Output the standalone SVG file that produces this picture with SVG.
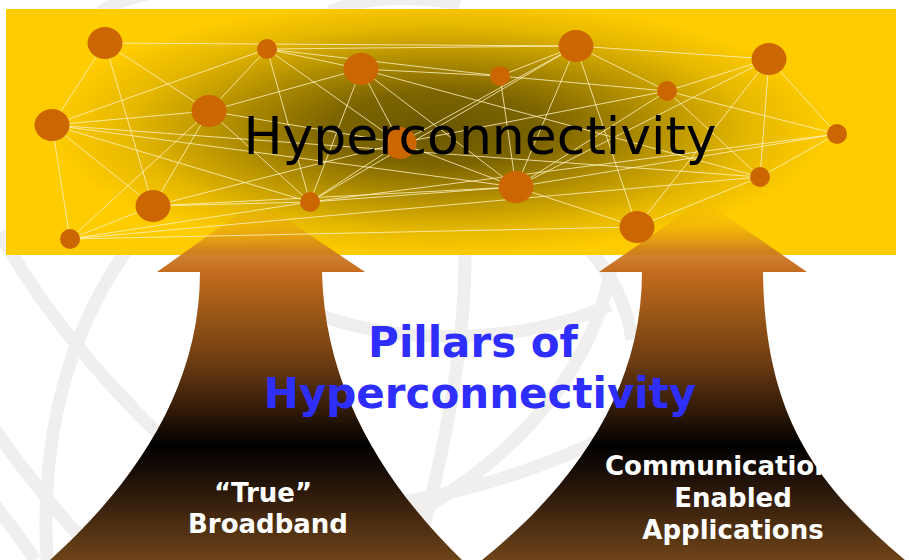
<svg xmlns="http://www.w3.org/2000/svg" width="909" height="560" viewBox="0 0 909 560">
<defs>
<radialGradient id="shade" gradientUnits="userSpaceOnUse" cx="440" cy="128" r="390" gradientTransform="translate(440 128) scale(1 0.33) translate(-440 -128)">
<stop offset="0" stop-color="#6B5700"/>
<stop offset="0.28" stop-color="#7C6400"/>
<stop offset="0.55" stop-color="#B39000"/>
<stop offset="0.8" stop-color="#E6B800"/>
<stop offset="1" stop-color="#FFCC00"/>
</radialGradient>
<linearGradient id="arrowGrad" gradientUnits="userSpaceOnUse" x1="0" y1="200" x2="0" y2="560">
<stop offset="0" stop-color="#E8A010" stop-opacity="0"/>
<stop offset="0.07" stop-color="#E09018" stop-opacity="0.3"/>
<stop offset="0.14" stop-color="#CC7A1E" stop-opacity="0.9"/>
<stop offset="0.2" stop-color="#C46C1E"/>
<stop offset="0.3" stop-color="#A05A18"/>
<stop offset="0.45" stop-color="#6C3C12"/>
<stop offset="0.6" stop-color="#2A1606"/>
<stop offset="0.68" stop-color="#000000"/>
<stop offset="0.8" stop-color="#28160A"/>
<stop offset="1" stop-color="#6E4418"/>
</linearGradient>
</defs>
<style>
.wm{fill:none;stroke:#F1EFED;stroke-width:13}
.ln{stroke:#FFF3C4;stroke-width:1;stroke-opacity:0.8}
.nd{fill:#CC6600}
.lbl{font-family:"DejaVu Sans",Verdana,sans-serif;font-weight:bold;font-size:26px;fill:#FFFFFF}
.blue{font-family:"DejaVu Sans",Verdana,sans-serif;font-weight:bold;font-size:42px;fill:#2E2EFF}
</style>
<rect width="909" height="560" fill="#FFFFFF"/>
<g id="watermark">
<path class="wm" d="M0,232 C30,290 90,370 170,445 C200,475 230,500 260,520"/>
<path class="wm" d="M130,245 C70,330 40,430 47,560"/>
<path class="wm" d="M-5,430 C30,480 60,515 100,560"/>
<path class="wm" d="M-5,505 C10,525 22,540 35,560"/>
<path class="wm" d="M465,255 C465,350 445,450 415,560"/>
<path class="wm" d="M330,510 C420,505 520,480 610,435"/>
<path class="wm" d="M320,315 C400,345 520,345 610,305"/>
<path class="wm" d="M612,265 C595,360 530,450 405,520"/>
<path class="wm" d="M590,250 C615,280 628,310 632,340"/>
<path class="wm" d="M100,12 C120,0 140,-6 170,-10"/>
<path class="wm" d="M330,12 C360,-2 400,-6 460,4"/>
</g>
<g id="banner">
<rect x="6" y="9" width="890" height="246" fill="#FFCC00"/>
<rect x="6" y="9" width="890" height="246" fill="url(#shade)"/>
</g>
<g id="pillar-left">
<path d="M200,272 L157,272 L258,200 L365,272 L322,272 C325,395 390,490 462,560 L50,560 C133,485 200,390 200,272 Z" fill="url(#arrowGrad)"/>
</g>
<g id="pillar-right">
<path d="M642,272 L599,272 L703,200 L807,272 L763,272 C765,410 810,480 905,560 L482,560 C575,485 642,390 642,272 Z" fill="url(#arrowGrad)"/>
</g>
<g id="connectors">
<line class="ln" x1="105" y1="43" x2="576" y2="46"/>
<line class="ln" x1="105" y1="43" x2="52" y2="125"/>
<line class="ln" x1="105" y1="43" x2="209" y2="111"/>
<line class="ln" x1="105" y1="43" x2="153" y2="206"/>
<line class="ln" x1="267" y1="49" x2="52" y2="125"/>
<line class="ln" x1="267" y1="49" x2="209" y2="111"/>
<line class="ln" x1="267" y1="49" x2="310" y2="202"/>
<line class="ln" x1="267" y1="49" x2="361" y2="69"/>
<line class="ln" x1="267" y1="49" x2="400" y2="143"/>
<line class="ln" x1="267" y1="49" x2="576" y2="46"/>
<line class="ln" x1="267" y1="49" x2="500" y2="76"/>
<line class="ln" x1="52" y1="125" x2="209" y2="111"/>
<line class="ln" x1="52" y1="125" x2="310" y2="202"/>
<line class="ln" x1="52" y1="125" x2="153" y2="206"/>
<line class="ln" x1="52" y1="125" x2="70" y2="239"/>
<line class="ln" x1="52" y1="125" x2="760" y2="177"/>
<line class="ln" x1="52" y1="125" x2="516" y2="187"/>
<line class="ln" x1="209" y1="111" x2="361" y2="69"/>
<line class="ln" x1="209" y1="111" x2="310" y2="202"/>
<line class="ln" x1="209" y1="111" x2="70" y2="239"/>
<line class="ln" x1="209" y1="111" x2="153" y2="206"/>
<line class="ln" x1="209" y1="111" x2="400" y2="143"/>
<line class="ln" x1="153" y1="206" x2="310" y2="202"/>
<line class="ln" x1="153" y1="206" x2="400" y2="143"/>
<line class="ln" x1="153" y1="206" x2="516" y2="187"/>
<line class="ln" x1="70" y1="239" x2="153" y2="206"/>
<line class="ln" x1="70" y1="239" x2="310" y2="202"/>
<line class="ln" x1="70" y1="239" x2="637" y2="227"/>
<line class="ln" x1="70" y1="239" x2="760" y2="177"/>
<line class="ln" x1="310" y1="202" x2="361" y2="69"/>
<line class="ln" x1="310" y1="202" x2="400" y2="143"/>
<line class="ln" x1="310" y1="202" x2="516" y2="187"/>
<line class="ln" x1="361" y1="69" x2="400" y2="143"/>
<line class="ln" x1="361" y1="69" x2="500" y2="76"/>
<line class="ln" x1="361" y1="69" x2="516" y2="187"/>
<line class="ln" x1="361" y1="69" x2="760" y2="177"/>
<line class="ln" x1="576" y1="46" x2="500" y2="76"/>
<line class="ln" x1="576" y1="46" x2="400" y2="143"/>
<line class="ln" x1="576" y1="46" x2="310" y2="202"/>
<line class="ln" x1="576" y1="46" x2="516" y2="187"/>
<line class="ln" x1="576" y1="46" x2="637" y2="227"/>
<line class="ln" x1="576" y1="46" x2="667" y2="91"/>
<line class="ln" x1="576" y1="46" x2="769" y2="59"/>
<line class="ln" x1="500" y1="76" x2="516" y2="187"/>
<line class="ln" x1="500" y1="76" x2="667" y2="91"/>
<line class="ln" x1="667" y1="91" x2="769" y2="59"/>
<line class="ln" x1="667" y1="91" x2="837" y2="134"/>
<line class="ln" x1="667" y1="91" x2="760" y2="177"/>
<line class="ln" x1="667" y1="91" x2="516" y2="187"/>
<line class="ln" x1="667" y1="91" x2="400" y2="143"/>
<line class="ln" x1="769" y1="59" x2="837" y2="134"/>
<line class="ln" x1="769" y1="59" x2="760" y2="177"/>
<line class="ln" x1="769" y1="59" x2="637" y2="227"/>
<line class="ln" x1="769" y1="59" x2="516" y2="187"/>
<line class="ln" x1="837" y1="134" x2="760" y2="177"/>
<line class="ln" x1="837" y1="134" x2="516" y2="187"/>
<line class="ln" x1="837" y1="134" x2="310" y2="202"/>
<line class="ln" x1="760" y1="177" x2="637" y2="227"/>
<line class="ln" x1="516" y1="187" x2="637" y2="227"/>
<line class="ln" x1="400" y1="143" x2="516" y2="187"/>
</g>
<g id="nodes">
<ellipse class="nd" cx="105" cy="43" rx="17.5" ry="16"/>
<circle class="nd" cx="267" cy="49" r="10"/>
<ellipse class="nd" cx="361" cy="69" rx="17.5" ry="16"/>
<ellipse class="nd" cx="52" cy="125" rx="17.5" ry="16"/>
<ellipse class="nd" cx="209" cy="111" rx="17.5" ry="16"/>
<ellipse class="nd" cx="400" cy="143" rx="16.5" ry="16"/>
<ellipse class="nd" cx="153" cy="206" rx="17.5" ry="16"/>
<circle class="nd" cx="310" cy="202" r="10"/>
<circle class="nd" cx="70" cy="239" r="10"/>
<ellipse class="nd" cx="576" cy="46" rx="17.5" ry="16"/>
<circle class="nd" cx="500" cy="76" r="10"/>
<ellipse class="nd" cx="769" cy="59" rx="17.5" ry="16"/>
<circle class="nd" cx="667" cy="91" r="10"/>
<circle class="nd" cx="837" cy="134" r="10"/>
<ellipse class="nd" cx="516" cy="187" rx="17.5" ry="16"/>
<circle class="nd" cx="760" cy="177" r="10"/>
<ellipse class="nd" cx="637" cy="227" rx="17.5" ry="16"/>
</g>
<g id="title">
<text x="480" y="154" text-anchor="middle" font-family="'DejaVu Sans',Verdana,sans-serif" font-size="52" fill="#000000">Hyperconnectivity</text>
</g>
<g id="subtitle">
<text class="blue" x="473" y="357" text-anchor="middle">Pillars of</text>
<text class="blue" x="480" y="408" text-anchor="middle">Hyperconnectivity</text>
</g>
<g id="label-left">
<text class="lbl" x="263" y="502" text-anchor="middle">“True”</text>
<text class="lbl" x="268" y="533" text-anchor="middle">Broadband</text>
</g>
<g id="label-right">
<text class="lbl" x="605" y="475">Communication</text>
<text class="lbl" x="733" y="507" text-anchor="middle">Enabled</text>
<text class="lbl" x="733" y="539" text-anchor="middle">Applications</text>
</g>
</svg>
